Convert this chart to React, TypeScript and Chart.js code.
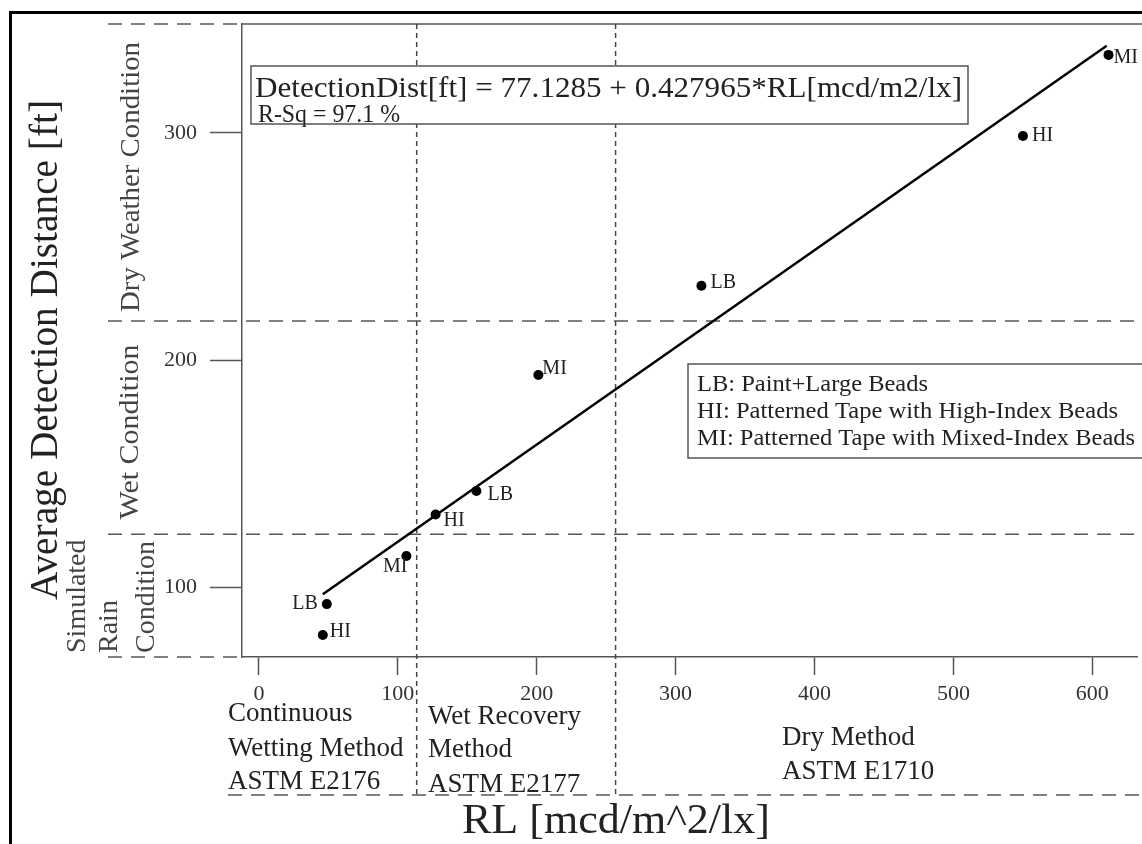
import React, { useEffect, useRef } from 'react';
import { Chart, registerables } from 'chart.js';

Chart.register(...registerables);

// ---- data ----
const RL_VALUES = [46.0, 48.9, 106.2, 127.2, 156.6, 201.2, 318.6, 550.1, 611.7];
const DIST_VALUES = [78.9, 92.5, 113.7, 132.0, 142.3, 193.4, 232.7, 298.7, 334.4];
const POINT_CODES = ['HI', 'LB', 'MI', 'HI', 'LB', 'MI', 'LB', 'HI', 'MI'];
const FIT_RL = [46.0, 610.4];
const FIT_DIST = [96.8, 338.4];
const X_TICKS = [0, 100, 200, 300, 400, 500, 600];
const Y_TICKS = [100, 200, 300];
const Y_BANDS = [69.2, 123.3, 217.2, 348.0];
const X_BANDS = [113.6, 256.8];
const X_RANGE = [-12.17, 632.2];
const Y_RANGE = [69.2, 348.0];

const EQUATION = 'DetectionDist[ft] = 77.1285 + 0.427965*RL[mcd/m2/lx]';
const RSQ = 'R-Sq = 97.1 %';
const LEGEND_LINES = [
  'LB: Paint+Large Beads',
  'HI: Patterned Tape with High-Index Beads',
  'MI: Patterned Tape with Mixed-Index Beads',
];

// label placement per point: [dx, dy, align]
const LABEL_PLACE: [number, number, CanvasTextAlign][] = [
  [7, -3, 'left'],
  [-9, 0, 'right'],
  [1, 11, 'right'],
  [8, 6, 'left'],
  [11, 4, 'left'],
  [4, -6, 'left'],
  [9, -3, 'left'],
  [9, 0, 'left'],
  [5, 3, 'left'],
];

const SERIF = "'Liberation Serif', 'Times New Roman', serif";

function text(ctx: CanvasRenderingContext2D, s: string, x: number, y: number, size: number, opts: { width?: number; align?: CanvasTextAlign; color?: string; rot?: boolean; baseline?: CanvasTextBaseline } = {}) {
  ctx.save();
  ctx.font = `${size}px ${SERIF}`;
  ctx.fillStyle = opts.color || '#222';
  ctx.textAlign = opts.align || 'left';
  ctx.textBaseline = opts.baseline || 'alphabetic';
  ctx.translate(x, y);
  if (opts.rot) ctx.rotate(-Math.PI / 2);
  if (opts.width) {
    const m = ctx.measureText(s).width;
    ctx.scale(opts.width / m, 1);
  }
  ctx.fillText(s, 0, 0);
  ctx.restore();
}

function line(ctx: CanvasRenderingContext2D, x1: number, y1: number, x2: number, y2: number) {
  ctx.beginPath();
  ctx.moveTo(x1, y1);
  ctx.lineTo(x2, y2);
  ctx.stroke();
}

const overlay = {
  id: 'overlay',
  beforeDatasetsDraw(chart: any) {
    const { ctx, chartArea, scales } = chart;
    const { left, top } = chartArea;
    const W = chart.width;
    ctx.save();
    ctx.strokeStyle = '#555';
    ctx.lineWidth = 1.5;
    line(ctx, left, top, W, top);
    ctx.setLineDash([14, 9]);
    Y_BANDS.forEach((v) => {
      const py = scales.y.getPixelForValue(v);
      const edge = v <= Y_RANGE[0] + 0.5 || v >= Y_RANGE[1] - 0.5;
      line(ctx, 108, py, edge ? left : W, py);
    });
    line(ctx, 228, 795, W, 795);
    ctx.setLineDash([5, 4]);
    ctx.strokeStyle = '#444';
    X_BANDS.forEach((v) => {
      const px = scales.x.getPixelForValue(v);
      line(ctx, px, top, px, 795);
    });
    ctx.restore();
  },
  afterDatasetsDraw(chart: any) {
    const { ctx } = chart;
    ctx.save();
    // equation box
    ctx.fillStyle = '#fff';
    ctx.strokeStyle = '#555';
    ctx.lineWidth = 1.5;
    ctx.fillRect(251, 66, 717, 58);
    ctx.strokeRect(251, 66, 717, 58);
    text(ctx, EQUATION, 255, 97, 30, { width: 707 });
    text(ctx, RSQ, 258, 122, 25, { width: 142 });
    // legend box
    ctx.fillStyle = '#fff';
    ctx.fillRect(688, 364, 470, 94);
    ctx.strokeRect(688, 364, 470, 94);
    const lw = [231, 421, 438];
    LEGEND_LINES.forEach((s, i) => text(ctx, s, 697, 391 + i * 27, 24, { width: lw[i] }));
    // point labels
    const meta = chart.getDatasetMeta(0);
    meta.data.forEach((el: any, i: number) => {
      const [dx, dy, al] = LABEL_PLACE[i];
      text(ctx, POINT_CODES[i], el.x + dx, el.y + dy, 20, { align: al, baseline: 'middle', color: '#222' });
    });
    // y-side condition labels
    const gray = '#444';
    text(ctx, 'Dry Weather Condition', 139, 177, 28, { rot: true, align: 'center', color: gray, width: 270 });
    text(ctx, 'Wet Condition', 138, 432, 28, { rot: true, align: 'center', color: gray, width: 175 });
    text(ctx, 'Simulated', 85, 653, 28, { rot: true, color: gray });
    text(ctx, 'Rain', 117, 653, 28, { rot: true, color: gray });
    text(ctx, 'Condition', 154, 653, 28, { rot: true, color: gray });
    // x-side method labels
    text(ctx, 'Continuous', 228, 721, 27);
    text(ctx, 'Wetting Method', 228, 756, 27);
    text(ctx, 'ASTM E2176', 228, 789, 27);
    text(ctx, 'Wet Recovery', 428, 724, 27);
    text(ctx, 'Method', 428, 757, 27);
    text(ctx, 'ASTM E2177', 428, 792, 27);
    text(ctx, 'Dry Method', 782, 745, 27);
    text(ctx, 'ASTM E1710', 782, 779, 27);
    // axis titles
    text(ctx, 'Average Detection Distance [ft]', 57, 350, 40, { rot: true, align: 'center', color: '#222', width: 500 });
    text(ctx, 'RL [mcd/m^2/lx]', 616, 833, 42, { align: 'center', width: 308 });
    // outer black frame
    ctx.fillStyle = '#000';
    ctx.fillRect(9, 11, 3, 840);
    ctx.fillRect(9, 11, 1140, 3);
    ctx.restore();
  },
};

export default function App() {
  const ref = useRef<HTMLCanvasElement>(null);
  useEffect(() => {
    if (!ref.current) return;
    const points = RL_VALUES.map((x, i) => ({ x, y: DIST_VALUES[i] }));
    const fit = FIT_RL.map((x, i) => ({ x, y: FIT_DIST[i] }));
    const tickFont = { family: SERIF, size: 22 };
    const chart = new Chart(ref.current, {
      type: 'scatter',
      data: {
        datasets: [
          {
            data: points,
            pointRadius: 5,
            pointBackgroundColor: '#000',
            pointBorderWidth: 0,
            showLine: false,
          } as any,
          {
            type: 'line',
            data: fit,
            borderColor: '#000',
            borderWidth: 2.5,
            pointRadius: 0,
            fill: false,
            showLine: true,
          } as any,
        ],
      },
      options: {
        responsive: false,
        animation: false,
        devicePixelRatio: 1,
        layout: { padding: { top: 24, left: 0, right: 0, bottom: 0 } },
        plugins: { legend: { display: false }, tooltip: { enabled: false } },
        scales: {
          x: {
            type: 'linear',
            min: X_RANGE[0],
            max: X_RANGE[1],
            afterFit: (s: any) => { s.height = 187; s.paddingLeft = 0; s.paddingRight = 0; },
            afterBuildTicks: (s: any) => { s.ticks = X_TICKS.map((v) => ({ value: v })); },
            border: { display: true, color: '#555', width: 1.5 },
            grid: { display: true, drawOnChartArea: false, drawTicks: true, tickLength: 18, tickColor: '#555', tickWidth: 1.5 },
            ticks: { autoSkip: false, maxRotation: 0, font: tickFont, color: '#333', padding: 6 },
          },
          y: {
            type: 'linear',
            min: Y_RANGE[0],
            max: Y_RANGE[1],
            afterFit: (s: any) => { s.width = 242; s.paddingTop = 0; s.paddingBottom = 0; },
            afterBuildTicks: (s: any) => { s.ticks = Y_TICKS.map((v) => ({ value: v })); },
            border: { display: true, color: '#555', width: 1.5 },
            grid: { display: true, drawOnChartArea: false, drawTicks: true, tickLength: 32, tickColor: '#555', tickWidth: 1.5 },
            ticks: { autoSkip: false, font: tickFont, color: '#333', padding: 13 },
          },
        },
      } as any,
      plugins: [overlay],
    });
    return () => chart.destroy();
  }, []);
  return (
    <div style={{ position: 'absolute', left: 0, top: 0, width: 1142, height: 844, overflow: 'hidden', background: '#fff' }}>
      <canvas ref={ref} width={1142} height={844} style={{ display: 'block' }} />
    </div>
  );
}
